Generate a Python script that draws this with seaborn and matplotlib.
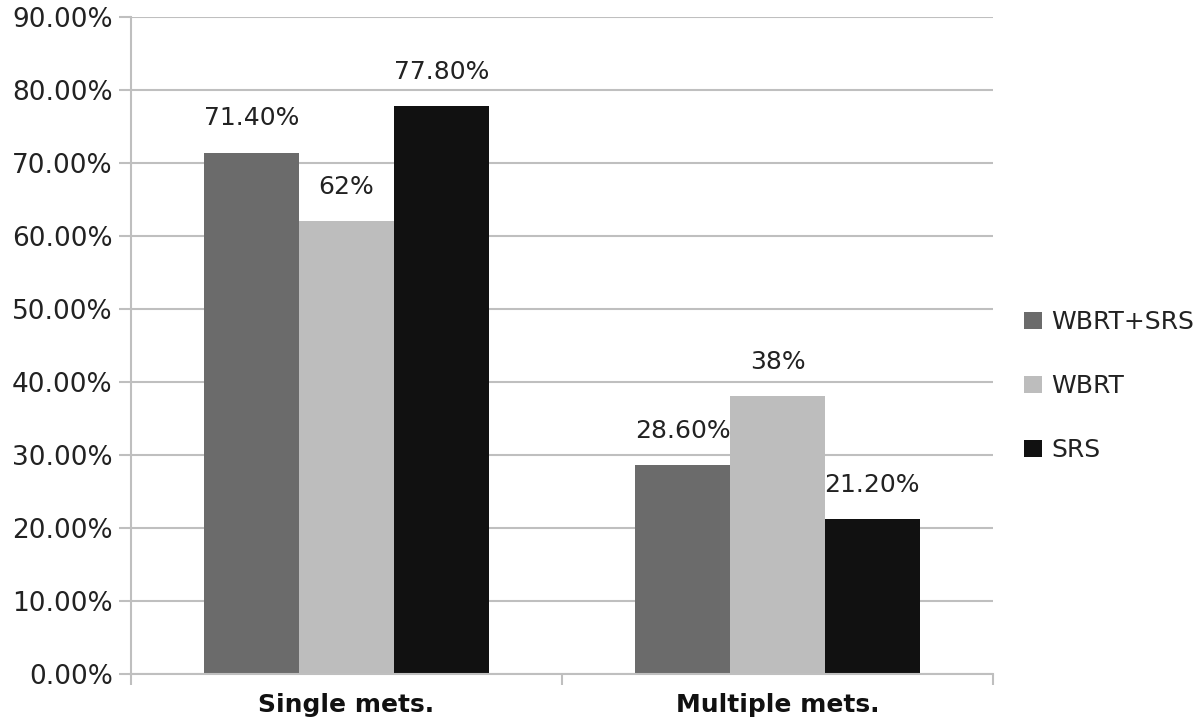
import matplotlib
matplotlib.use("Agg")
import matplotlib.pyplot as plt
import seaborn as sns
import pandas as pd
from matplotlib.ticker import FuncFormatter, FixedLocator

# datos del grafico
categorias = ["Single mets.", "Multiple mets."]
tratamientos = ["WBRT+SRS", "WBRT", "SRS"]
wbrt_srs = [71.4, 28.6]
wbrt = [62.0, 38.0]
srs = [77.8, 21.2]
etiquetas_barras = {
    "WBRT+SRS": ["71.40%", "28.60%"],
    "WBRT": ["62%", "38%"],
    "SRS": ["77.80%", "21.20%"],
}
colores = ["#6b6b6b", "#bdbdbd", "#111111"]

df = pd.DataFrame({
    "cat": categorias * 3,
    "trat": [t for t in tratamientos for _ in categorias],
    "val": wbrt_srs + wbrt + srs,
})

sns.set_theme(style="white")
plt.rcParams["font.family"] = ["DejaVu Sans"]

fig = plt.figure(figsize=(12, 7.26), dpi=100)
ax = fig.add_axes([0.109, 0.0716, 0.7185, 0.9054])

sns.barplot(data=df, x="cat", y="val", hue="trat", hue_order=tratamientos,
            palette=colores, width=0.66, saturation=1, ax=ax, linewidth=0)

# etiquetas encima de cada barra
for cont, t in zip(ax.containers, tratamientos):
    ax.bar_label(cont, labels=etiquetas_barras[t], padding=16,
                 fontsize=18, color="#222222")

ax.set_ylim(0, 90)
ax.set_xlim(-0.5, 1.5)
ax.set_yticks(range(0, 91, 10))
ax.yaxis.set_major_formatter(FuncFormatter(lambda v, p: f"{v:.2f}%"))
ax.yaxis.grid(True, color="#bfbfbf", linewidth=1.5)
ax.set_axisbelow(True)
ax.tick_params(axis="y", left=True, length=9, width=1.5, color="#bfbfbf",
               labelsize=19, labelcolor="#222222", pad=4)
ax.tick_params(axis="x", bottom=False, labelsize=18, labelcolor="#111111", pad=8)
ax.xaxis.set_minor_locator(FixedLocator([-0.5, 0.5, 1.5]))
ax.tick_params(axis="x", which="minor", bottom=True, length=8, width=1.5,
               color="#bfbfbf", direction="out")
for lbl in ax.get_xticklabels():
    lbl.set_fontweight("bold")
ax.set_xlabel("")
ax.set_ylabel("")

for s in ["top", "right"]:
    ax.spines[s].set_visible(False)
for s in ["left", "bottom"]:
    ax.spines[s].set_color("#bfbfbf")
    ax.spines[s].set_linewidth(1.5)

ax.legend(loc="center left", bbox_to_anchor=(1.01, 0.438), frameon=False,
          fontsize=18, handlelength=0.7, handleheight=0.7, handletextpad=0.4,
          labelspacing=1.6, labelcolor="#222222")

fig.savefig("out.png", dpi=100)
